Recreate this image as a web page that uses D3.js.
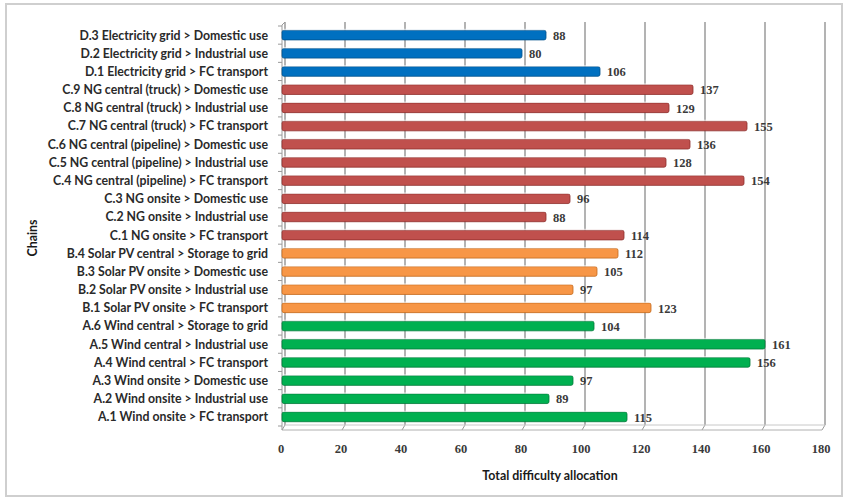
<!DOCTYPE html>
<html>
<head>
<meta charset="utf-8">
<script src="https://cdn.jsdelivr.net/npm/d3@7"></script>
<style>
  html, body { margin: 0; padding: 0; background: #fff; }
  svg { display: block; }
</style>
</head>
<body>
<svg id="chart" width="847" height="502"></svg>
<script>
// Supply chains, listed bottom to top
const chains = [
  "A.1 Wind onsite > FC transport",
  "A.2 Wind onsite > Industrial use",
  "A.3 Wind onsite > Domestic use",
  "A.4 Wind central > FC transport",
  "A.5 Wind central > Industrial use",
  "A.6 Wind central > Storage to grid",
  "B.1 Solar PV onsite > FC transport",
  "B.2 Solar PV onsite > Industrial use",
  "B.3 Solar PV onsite > Domestic use",
  "B.4 Solar PV central > Storage to grid",
  "C.1 NG onsite > FC transport",
  "C.2 NG onsite > Industrial use",
  "C.3 NG onsite > Domestic use",
  "C.4 NG central (pipeline) > FC transport",
  "C.5 NG central (pipeline) > Industrial use",
  "C.6 NG central (pipeline) > Domestic use",
  "C.7 NG central (truck) > FC transport",
  "C.8 NG central (truck) > Industrial use",
  "C.9 NG central (truck) > Domestic use",
  "D.1 Electricity grid > FC transport",
  "D.2 Electricity grid > Industrial use",
  "D.3 Electricity grid > Domestic use"
];
const difficulty = [115, 89, 97, 156, 161, 104, 123, 97, 105, 112, 114, 88, 96, 154, 128, 136, 155, 129, 137, 106, 80, 88];
const xTicks = [0, 20, 40, 60, 80, 100, 120, 140, 160, 180];
const groupColors = { A: "#00b050", B: "#f79646", C: "#c0504d", D: "#0070c0" };
const groupEdges  = { A: "#007a38", B: "#c46a1c", C: "#8e2f2c", D: "#00508c" };

const svg = d3.select("#chart");

// outer frame
svg.append("rect")
  .attr("x", 6).attr("y", 4).attr("width", 836).attr("height", 492)
  .attr("fill", "#fff").attr("stroke", "#cfcfcf").attr("stroke-width", 2);

const depth = { dx: 3, dy: -5 };        // 3D offset of back wall
const plotTop = 26, plotBottom = 426;

// x scale for the front plane (bars and tick labels)
const x = d3.scaleLinear().domain([0, 180]).range([282, 822]);
const y = d3.scaleBand()
  .domain(chains.slice().reverse())
  .range([plotTop, plotBottom])
  .paddingInner(0.47).paddingOuter(0.235);

const floorY = plotBottom + 4;

// back-wall vertical gridlines
const grid = svg.append("g");
grid.selectAll("line.grid")
  .data(xTicks)
  .join("line")
  .attr("class", "grid")
  .attr("x1", d => x(d) + depth.dx).attr("x2", d => x(d) + depth.dx)
  .attr("y1", plotTop - 4).attr("y2", floorY + depth.dy)
  .attr("stroke", "#8a8a8a").attr("stroke-width", 1.3);
// floor diagonals
grid.selectAll("line.floor")
  .data(xTicks)
  .join("line")
  .attr("x1", d => x(d) + depth.dx).attr("x2", d => x(d))
  .attr("y1", floorY + depth.dy).attr("y2", floorY)
  .attr("stroke", "#9a9a9a").attr("stroke-width", 1);
// floor edges
grid.append("line")
  .attr("x1", x(0)).attr("x2", x(180))
  .attr("y1", floorY).attr("y2", floorY)
  .attr("stroke", "#b0b0b0").attr("stroke-width", 1);
grid.append("line")
  .attr("x1", x(0) + depth.dx).attr("x2", x(180) + depth.dx)
  .attr("y1", floorY + depth.dy).attr("y2", floorY + depth.dy)
  .attr("stroke", "#c8c8c8").attr("stroke-width", 1);
// left wall front edge
grid.append("line")
  .attr("x1", x(0)).attr("x2", x(0))
  .attr("y1", plotTop - 1).attr("y2", floorY)
  .attr("stroke", "#9a9a9a").attr("stroke-width", 1);
grid.append("line")
  .attr("x1", x(0)).attr("x2", x(0) + depth.dx)
  .attr("y1", plotTop - 1).attr("y2", plotTop - 4)
  .attr("stroke", "#9a9a9a").attr("stroke-width", 1);

// category tick marks on the left wall
const step = y.step();
const boundaries = d3.range(chains.length + 1).map(i => plotTop + i * (plotBottom - plotTop) / chains.length);
grid.selectAll("line.ytick")
  .data(boundaries)
  .join("line")
  .attr("x1", x(0) - 4).attr("x2", x(0))
  .attr("y1", d => d).attr("y2", d => d)
  .attr("stroke", "#9a9a9a").attr("stroke-width", 1);

// bars
const rows = chains.map((c, i) => ({ chain: c, value: difficulty[i], group: c[0] }));
const bars = svg.append("g");
bars.selectAll("rect.bar")
  .data(rows)
  .join("rect")
  .attr("class", "bar")
  .attr("x", x(0))
  .attr("y", d => y(d.chain))
  .attr("width", d => x(d.value) - x(0))
  .attr("height", y.bandwidth())
  .attr("rx", 2).attr("ry", 2)
  .attr("fill", d => groupColors[d.group])
  .attr("stroke", d => groupEdges[d.group])
  .attr("stroke-width", 0.8);
// light top highlight for a cylindrical look
bars.selectAll("rect.hl")
  .data(rows)
  .join("rect")
  .attr("class", "hl")
  .attr("x", x(0) + 1)
  .attr("y", d => y(d.chain) - 1.5)
  .attr("width", d => x(d.value) - x(0) - 2)
  .attr("height", 1.5)
  .attr("fill", "#ffffff").attr("opacity", 0.6);

// value labels
svg.append("g").selectAll("text")
  .data(rows)
  .join("text")
  .attr("x", d => x(d.value) + 7)
  .attr("y", d => y(d.chain) + y.bandwidth() / 2)
  .attr("dy", "0.38em")
  .attr("font-family", "Liberation Serif, serif")
  .attr("font-weight", "bold")
  .attr("font-size", 12.5)
  .attr("fill", "#3a3a3a")
  .text(d => d.value);

// category labels
svg.append("g").selectAll("text")
  .data(rows)
  .join("text")
  .attr("x", 268)
  .attr("y", d => y(d.chain) + y.bandwidth() / 2)
  .attr("dy", "0.36em")
  .attr("text-anchor", "end")
  .attr("font-family", "Lato, sans-serif")
  .attr("font-weight", "bold")
  .attr("font-size", 12.3)
  .attr("fill", "#2a2a2a")
  .text(d => d.chain);

// x tick labels
svg.append("g").selectAll("text")
  .data(xTicks)
  .join("text")
  .attr("x", d => x(d) - 1)
  .attr("y", 453)
  .attr("text-anchor", "middle")
  .attr("font-family", "Liberation Serif, serif")
  .attr("font-weight", "bold")
  .attr("font-size", 12.5)
  .attr("fill", "#3a3a3a")
  .text(d => d);

// axis titles
svg.append("text")
  .attr("x", 550).attr("y", 480)
  .attr("text-anchor", "middle")
  .attr("font-family", "Lato, sans-serif")
  .attr("font-weight", "bold")
  .attr("font-size", 12.4)
  .attr("fill", "#1a1a1a")
  .text("Total difficulty allocation");

svg.append("text")
  .attr("transform", "translate(37,238) rotate(-90)")
  .attr("text-anchor", "middle")
  .attr("font-family", "Lato, sans-serif")
  .attr("font-weight", "bold")
  .attr("font-size", 12.4)
  .attr("fill", "#1a1a1a")
  .text("Chains");
</script>
</body>
</html>
